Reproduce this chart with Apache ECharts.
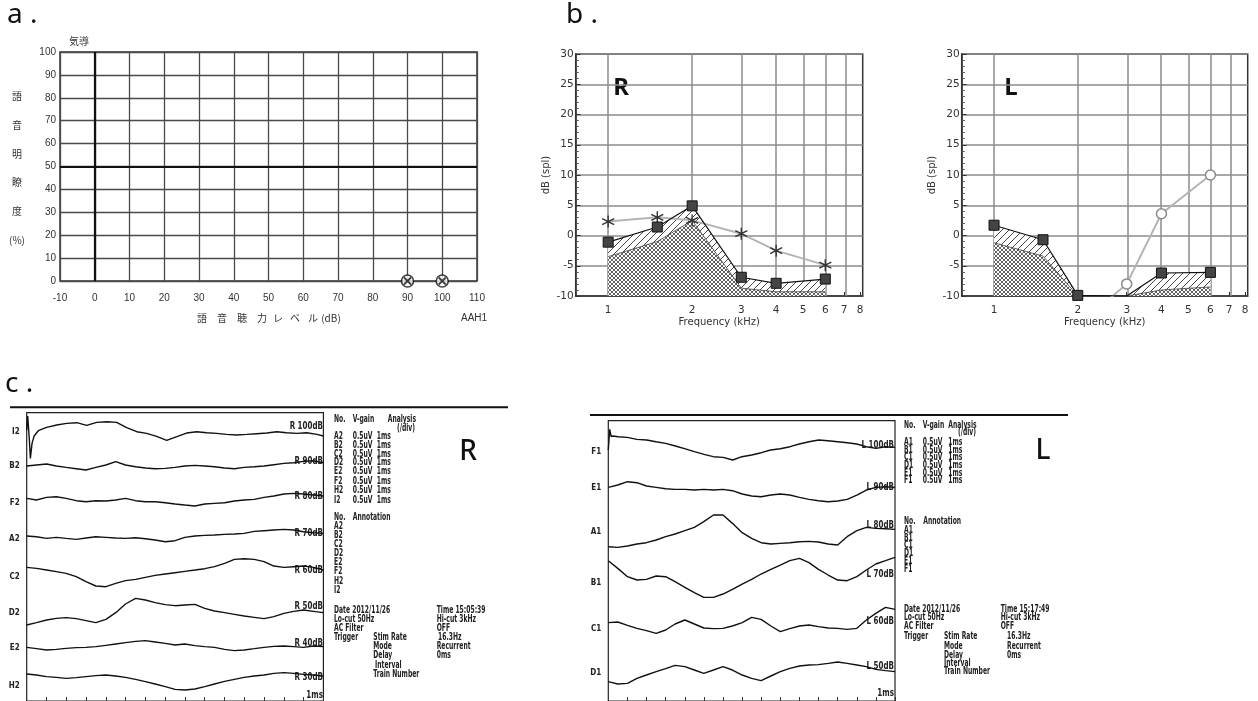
<!DOCTYPE html>
<html><head><meta charset="utf-8">
<script src="https://cdn.jsdelivr.net/npm/echarts@6/dist/echarts.min.js"></script>
<style>html,body{margin:0;padding:0;background:#fff}#c{width:1258px;height:701px}</style>
</head><body><div id="c"></div>
<script>
// ---------- Panel a : speech audiogram ----------
const speechLevel = [90, 100];
const speechScore = [0, 0];

// ---------- Panel b : DPOAE ----------
const freqR  = [1, 1.5, 2, 3, 4, 6];
const dpR    = [-1.1, 1.4, 4.9, -6.9, -7.9, -7.2];
const innerR = [-3.5, -1.0, 2.5, -8.7, -9.3, -9.3];
const noiseR = [2.3, 3.0, 2.5, 0.3, -2.5, -4.9];
const freqL  = [1, 1.5, 2, 3, 4, 6];
const dpL    = [1.7, -0.7, -9.9, -10, -6.2, -6.1];
const dpLMarker = [true, true, true, false, true, true];
const innerL = [-1.2, -3.4, -10, -10, -9.0, -8.5];
const noiseL = [null, null, -15, -8.0, 3.6, 10.0];
const freqTicks = [1, 2, 3, 4, 5, 6, 7, 8];
const freqGrid  = [1, 2, 3, 4, 5, 6, 7];

// ---------- Panel c : ABR ----------
const abrTimes = [0,0.33,0.67,1,1.33,1.67,2,2.33,2.67,3,3.33,3.67,4,4.33,4.67,5,5.33,5.67,6,6.33,6.67,7,7.33,7.67,8,8.33,8.67,9,9.33,9.67,10];
const rNames = ['I2','B2','F2','A2','C2','D2','E2','H2'];
const rBase  = [125, 228, 338, 448, 560, 668, 775, 888];
const rLevels = ['R 100dB','R 90dB','R 80dB','R 70dB','R 60dB','R 50dB','R 40dB','R 30dB'];
const timesI2 = [0,0.034,0.09,0.124,0.18,0.25,0.39,0.67,1.01,1.35,1.69,2.02,2.36,2.70,3.03,3.37,3.71,4.04,4.38,4.72,5.06,5.39,5.73,6.07,6.40,6.74,7.08,7.42,7.75,8.09,8.43,8.76,9.10,9.44,9.78,10];
const ampI2 = [5,47,-25,-80,-35,-13,3,13,20,25,27,19,28,30,28,12,0,-5,-14,-26,-15,-4,0,-3,-5,-8,-10,-8,-6,-4,0,-3,-5,-3,-8,-13];
const ampB2 = [0,3,6,0,-4,-8,-12,-4,3,13,3,-2,-6,-8,-7,-4,0,2,0,-2,-6,-8,-4,-2,0,4,8,10,14,16,10];
const ampF2 = [13,8,16,18,13,6,3,6,5,8,13,6,3,3,0,-4,-7,-10,-4,-2,0,5,8,10,16,20,26,28,26,23,20];
const ampA2 = [10,8,3,6,3,0,4,8,6,4,3,5,2,-2,-7,-4,6,10,12,13,15,16,18,24,26,28,30,28,23,20,18];
const ampC2 = [28,25,20,15,10,0,-15,-28,-30,-20,-12,-8,-2,4,8,12,16,20,24,30,40,52,54,52,45,32,28,30,32,28,20];
const ampD2 = [-37,-30,-22,-17,-15,-18,-24,-30,-20,0,26,43,38,30,24,21,23,25,13,5,0,-5,-10,-14,-18,-12,-2,4,8,4,0];
const ampE2 = [3,-1,-5,-3,0,2,3,5,9,13,17,21,23,19,15,10,13,8,5,3,-3,-7,-5,-1,3,6,7,5,3,7,5];
const ampH2 = [36,33,28,26,23,25,28,31,33,30,26,20,13,6,-2,-10,-12,-9,-2,6,14,20,26,30,33,38,40,38,35,33,30];

const lNames = ['F1','E1','A1','B1','C1','D1'];
const lBase  = [155, 265, 395, 548, 688, 820];
const lLevels = ['L 100dB','L 90dB','L 80dB','L 70dB','L 60dB','L 50dB'];
const timesF1 = [0,0.05,0.10,0.17,0.34,0.66,1.0,1.34,1.66,2.0,2.34,2.66,3.0,3.34,3.66,4.0,4.34,4.66,5.0,5.34,5.66,6.0,6.34,6.66,7.0,7.34,7.66,8.0,8.34,8.66,9.0,9.34,9.66,10];
const ampF1 = [5,67,45,47,45,43,37,35,30,25,17,9,0,-8,-15,-17,-25,-15,-10,-3,5,9,15,23,30,35,33,30,27,23,15,10,15,13];
const ampE1 = [3,10,20,17,7,3,-1,-3,-3,-5,-3,-5,-3,-7,-17,-23,-25,-20,-17,-20,-27,-33,-37,-40,-38,-33,-20,-5,3,5,3];
const ampA1 = [-45,-47,-43,-37,-33,-25,-15,-7,3,13,30,50,50,25,-3,-20,-33,-37,-35,-33,-30,-29,-31,-37,-40,-15,3,13,10,9,7];
const ampB1 = [66,43,18,8,10,20,18,3,-14,-30,-44,-44,-34,-20,-4,10,26,40,53,66,73,60,40,23,8,6,18,38,56,66,76];
const ampC1 = [20,22,12,3,-4,-12,-2,16,28,16,4,2,3,10,20,36,30,10,-7,2,10,13,8,4,3,0,3,28,48,66,60];
const ampD1 = [-25,-32,-30,-15,-5,5,14,24,20,10,0,10,20,10,-5,-15,-22,-8,5,15,22,25,26,30,34,30,25,20,12,8,5];

// ---------- patterns ----------
function makeHatch(){
  const s=7, c=document.createElement('canvas'); c.width=s; c.height=s;
  const g=c.getContext('2d'); g.fillStyle='#fff'; g.fillRect(0,0,s,s);
  g.strokeStyle='#333'; g.lineWidth=0.9;
  g.beginPath(); g.moveTo(-1,s+1); g.lineTo(s+1,-1); g.stroke();
  return c;
}
function makeCross(){
  const s=4, c=document.createElement('canvas'); c.width=s; c.height=s;
  const g=c.getContext('2d'); g.fillStyle='#fff'; g.fillRect(0,0,s,s);
  g.strokeStyle='#3a3a3a'; g.lineWidth=0.8;
  g.beginPath(); g.moveTo(0,0); g.lineTo(s,s); g.moveTo(s,0); g.lineTo(0,s); g.stroke();
  return c;
}
const hatch = makeHatch(), cross = makeCross();
const lg = Math.log10;

const ASTER = 'path://M10,0L10,20M1.34,5L18.66,15M1.34,15L18.66,5';
const XMARK = 'path://M0,0L10,10M10,0L0,10';

function dpSeries(ax, freqs, dp, inner, noise, noiseIsCircle, markers){
  const xy = arr => freqs.map((f,i)=>[lg(f), arr[i]]);
  const noiseStyle = noiseIsCircle
    ? {symbol:'circle', symbolSize:10, itemStyle:{color:'#fff', borderColor:'#8a8a8a', borderWidth:1.5}, lineStyle:{color:'#b4b4b4', width:2}}
    : {symbol:ASTER, symbolSize:12, itemStyle:{color:'transparent', borderColor:'#333', borderWidth:1.4}, lineStyle:{color:'#b4b4b4', width:2}};
  return [
    {type:'line', xAxisIndex:ax, yAxisIndex:ax, data:xy(dp), symbol:'none', lineStyle:{width:0},
     areaStyle:{color:{image:hatch, repeat:'repeat'}, opacity:1, origin:'start'}, z:2, silent:true},
    {type:'line', xAxisIndex:ax, yAxisIndex:ax, data:xy(inner), symbol:'none', lineStyle:{color:'#444', width:0.8},
     areaStyle:{color:{image:cross, repeat:'repeat'}, opacity:1, origin:'start'}, z:3, silent:true},
    Object.assign({type:'line', xAxisIndex:ax, yAxisIndex:ax, data:xy(noise), z:4, silent:true, clip:true,
     markLine:{z:1, silent:true, symbol:['none','none'], label:{show:false},
       lineStyle:{color:'#8c8c8c', width:1.5, type:'solid'}, data:freqGrid.map(f=>({xAxis:lg(f)}))}}, noiseStyle),
    {type:'line', xAxisIndex:ax, yAxisIndex:ax, z:5, silent:true, clip:true,
     data:freqs.map((f,i)=> markers && !markers[i] ? {value:[lg(f), dp[i]], symbol:'none'} : [lg(f), dp[i]]),
     symbol:'rect', symbolSize:10, itemStyle:{color:'#444', borderColor:'#111', borderWidth:1},
     lineStyle:{color:'#111', width:1.2}}
  ];
}

function abrSeries(ax, times, amp, base){
  return {type:'line', xAxisIndex:ax, yAxisIndex:ax, symbol:'none', silent:true,
    data: times.map((t,i)=>[t, base - amp[i]]), lineStyle:{color:'#111', width:1.4}};
}

// ---------- axes ----------
const labA = {fontFamily:'Liberation Sans', fontSize:10, color:'#333'};
const dpX = (gi)=>({gridIndex:gi, type:'value', min:lg(0.765), max:lg(8.17),
  name:'Frequency (kHz)', nameLocation:'middle', nameGap:21,
  nameTextStyle:{fontFamily:'DejaVu Sans', fontSize:10, color:'#333'},
  axisLine:{show:true, onZero:false, lineStyle:{color:'#333', width:1.5}},
  axisTick:{show:true, inside:true, length:4, customValues:freqTicks.map(lg), lineStyle:{color:'#333'}},
  axisLabel:{customValues:freqTicks.map(lg), formatter:v=>String(Math.round(Math.pow(10,v))), margin:9,
    fontFamily:'DejaVu Sans', fontSize:10.5, color:'#333'},
  splitLine:{show:false}});
const dpY = (gi)=>({gridIndex:gi, type:'value', min:-10, max:30, interval:5,
  name:'dB (spl)', nameLocation:'middle', nameGap:24, nameRotate:90,
  nameTextStyle:{fontFamily:'DejaVu Sans', fontSize:10, color:'#333'},
  axisLine:{show:true, onZero:false, lineStyle:{color:'#333', width:1.5}},
  axisTick:{show:true, inside:true, length:5, lineStyle:{color:'#333'}},
  minorTick:{show:true, splitNumber:5, length:3, lineStyle:{color:'#555'}},
  axisLabel:{margin:2, fontFamily:'DejaVu Sans', fontSize:10.5, color:'#333'},
  splitLine:{show:true, lineStyle:{color:'#8c8c8c', width:1.5}}});
const abrX = (gi)=>({gridIndex:gi, type:'value', min:0, max:10, interval:10/15,
  axisLine:{show:false, onZero:false}, axisLabel:{show:false}, splitLine:{show:false},
  axisTick:{show:true, inside:true, length:4, lineStyle:{color:'#333'}}});
const abrY = (gi, mn, mx, bases, names)=>({gridIndex:gi, type:'value', inverse:true, min:mn, max:mx,
  axisLine:{show:false, onZero:false}, axisTick:{show:false}, splitLine:{show:false},
  axisLabel:{customValues:bases, formatter:v=>names[bases.indexOf(v)] || '', margin:7,
    fontFamily:'DejaVu Sans Condensed', fontWeight:'bold', fontSize:8, color:'#222'}});

// ---------- texts ----------
const T = [];
function txt(text, x, y, font, opts, sx){
  const el = {type:'text', x, y, silent:true,
    style:Object.assign({text, font, fill:'#222', align:'left', verticalAlign:'middle'}, opts||{})};
  if (sx) el.scaleX = sx;
  T.push(el);
}
const big = '28px "Noto Sans", sans-serif';
txt('a .', 7, 15, big, {fill:'#111'});
txt('b .', 566, 15, big, {fill:'#111'});
txt('c .', 5, 384, big, {fill:'#111'});
const jp = '10px "Noto Sans CJK JP"';
txt('気導', 69, 41.7, jp, {fill:'#333'});
[['語',96.7],['音',125.3],['明',154],['瞭',182.7],['度',211.3],['(%)',240]].forEach(([c,y])=>txt(c,17,y,jp,{align:'center',fill:'#333'}));
[['語',202],['音',222],['聴',242],['力',262],['レ',278],['ベ',295],['ル',313],['(dB)',331]].forEach(([c,x])=>txt(c,x,318,jp,{align:'center',fill:'#333'}));
txt('AAH1', 461, 318, '10px "Liberation Sans"', {fill:'#333'});
txt('R', 621, 88, 'bold 24px "Noto Sans"', {align:'center', fill:'#111'});
txt('L', 1011, 88, 'bold 24px "Noto Sans"', {align:'center', fill:'#111'});
txt('R', 468, 452, '500 28px "Noto Sans"', {align:'center', fill:'#111'});
txt('L', 1043, 451, '500 28px "Noto Sans"', {align:'center', fill:'#111'});

const mono = 'bold 10.5px "DejaVu Sans Condensed", "Liberation Sans Narrow", sans-serif';
const monoL = 'bold 11px "DejaVu Sans Condensed", sans-serif';
const SX = 0.64, SXL = 0.72;
function m(text, x, y){ txt(text, x, y, mono, null, SX); }
// level labels
const rLevelY = [426, 460.7, 496, 533.3, 570, 606, 642.7, 676.7];
rLevels.forEach((s,i)=>txt(s, 323, rLevelY[i], monoL, {align:'right'}, SXL));
txt('1ms', 323, 695, monoL, {align:'right'}, SXL);
const lLevelY = [445, 487, 525, 574, 621, 665.7];
lLevels.forEach((s,i)=>txt(s, 894, lLevelY[i], monoL, {align:'right'}, SXL));
txt('1ms', 894, 693, monoL, {align:'right'}, SXL);
// R info block
const rGainNames = ['A2','B2','C2','D2','E2','F2','H2','I2'];
m('No.',334,419); m('V-gain',352.7,419); m('Analysis',387.7,419); m('(/div)',397,428);
const rRowY = [436.7,445,454,462.7,471.7,481,490.7,500];
rGainNames.forEach((n,i)=>{m(n,334,rRowY[i]); m('0.5uV',352.7,rRowY[i]); m('1ms',376.7,rRowY[i]);});
m('No.',334,517.3); m('Annotation',352.7,517.3);
const rAnnY = [526,535,544,553.3,562.3,571.7,581,590.7];
rGainNames.forEach((n,i)=>m(n,334,rAnnY[i]));
m('Date 2012/11/26',334,610.7); m('Time 15:05:39',436.7,610.7);
m('Lo-cut 50Hz',334,619.3); m('Hi-cut 3kHz',436.7,619.3);
m('AC Filter',334,628); m('OFF',436.7,628);
m('Trigger',334,637.3); m('Stim Rate',373.3,637.3); m('16.3Hz',438,637.3);
m('Mode',373.3,646.7); m('Recurrent',436.7,646.7);
m('Delay',373.3,655.7); m('0ms',436.7,655.7);
m('Interval',375,665);
m('Train Number',373.3,674);
// L info block
const lGainNames = ['A1','B1','C1','D1','E1','F1'];
m('No.',904,425); m('V-gain',922.7,425); m('Analysis',948.3,425); m('(/div)',958,432.7);
const lRowY = [442.3,450,457.7,465.3,473,480.7];
lGainNames.forEach((n,i)=>{m(n,904,lRowY[i]); m('0.5uV',922.7,lRowY[i]); m('1ms',948.3,lRowY[i]);});
m('No.',904,521.7); m('Annotation',923.3,521.7);
const lAnnY = [530.7,538.3,545.7,553.7,561.7,569.3];
lGainNames.forEach((n,i)=>m(n,904,lAnnY[i]));
m('Date 2012/11/26',904,609.3); m('Time 15:17:49',1000.7,609.3);
m('Lo-cut 50Hz',904,617.6); m('Hi-cut 3kHz',1000.7,617.6);
m('AC Filter',904,626); m('OFF',1000.7,626);
m('Trigger',904,636); m('Stim Rate',944,636); m('16.3Hz',1007,636);
m('Mode',944,646); m('Recurrent',1007,646);
m('Delay',944,655); m('0ms',1007,655);
m('Interval',944,663.3);
m('Train Number',944,671.7);
// separator lines in panel c
T.push({type:'line', silent:true, shape:{x1:10,y1:407.3,x2:508,y2:407.3}, style:{stroke:'#111', lineWidth:2}});
T.push({type:'line', silent:true, shape:{x1:590,y1:415,x2:1068,y2:415}, style:{stroke:'#111', lineWidth:2}});

// ---------- option ----------
const series = [];
series.push({type:'scatter', xAxisIndex:0, yAxisIndex:0, silent:true,
  data: speechLevel.map((x,i)=>[x, speechScore[i]]), symbol:'circle', symbolSize:12,
  itemStyle:{color:'#fff', borderColor:'#111', borderWidth:1.6}, z:4,
  markLine:{silent:true, symbol:['none','none'], label:{show:false}, z:3,
    lineStyle:{color:'#111', width:2.2, type:'solid'}, data:[{xAxis:0},{yAxis:50}]}});
series.push({type:'scatter', xAxisIndex:0, yAxisIndex:0, silent:true,
  data: speechLevel.map((x,i)=>[x, speechScore[i]]), symbol:XMARK, symbolSize:7,
  itemStyle:{color:'transparent', borderColor:'#111', borderWidth:1.8}, z:5});
series.push(...dpSeries(1, freqR, dpR, innerR, noiseR, false, null));
series.push(...dpSeries(2, freqL, dpL, innerL, noiseL, true, dpLMarker));
const rAmps = [ampI2, ampB2, ampF2, ampA2, ampC2, ampD2, ampE2, ampH2];
rAmps.forEach((a,i)=>series.push(abrSeries(3, i===0 ? timesI2 : abrTimes, a, rBase[i])));
const lAmps = [ampF1, ampE1, ampA1, ampB1, ampC1, ampD1];
lAmps.forEach((a,i)=>series.push(abrSeries(4, i===0 ? timesF1 : abrTimes, a, lBase[i])));

const option = {
  animation:false,
  backgroundColor:'#fff',
  grid:[
    {left:60, top:52, width:417, height:229, show:true, borderColor:'#333', borderWidth:1.5},
    {left:575.7, top:54, width:287, height:242, show:true, borderColor:'#333', borderWidth:1.5},
    {left:961.7, top:54, width:286, height:242, show:true, borderColor:'#333', borderWidth:1.5},
    {left:26.7, top:412.7, width:296.7, height:288.3, show:true, borderColor:'#222', borderWidth:1.2},
    {left:608.3, top:420.7, width:286.7, height:280.3, show:true, borderColor:'#222', borderWidth:1.2}
  ],
  xAxis:[
    {gridIndex:0, type:'value', min:-10, max:110, interval:10,
      axisLine:{show:false, onZero:false}, axisTick:{show:false}, axisLabel:Object.assign({margin:12}, labA),
      splitLine:{show:true, lineStyle:{color:'#4a4a4a', width:1.3}}},
    dpX(1), dpX(2), abrX(3), abrX(4)
  ],
  yAxis:[
    {gridIndex:0, type:'value', min:0, max:100, interval:10,
      axisLine:{show:false, onZero:false}, axisTick:{show:false}, axisLabel:Object.assign({margin:4}, labA),
      splitLine:{show:true, lineStyle:{color:'#4a4a4a', width:1.3}}},
    dpY(1), dpY(2),
    abrY(3, 68, 933, rBase, rNames),
    abrY(4, 62, 903, lBase, lNames)
  ],
  series,
  graphic:{elements:T}
};
const chart = echarts.init(document.getElementById('c'));
chart.setOption(option);
</script></body></html>
